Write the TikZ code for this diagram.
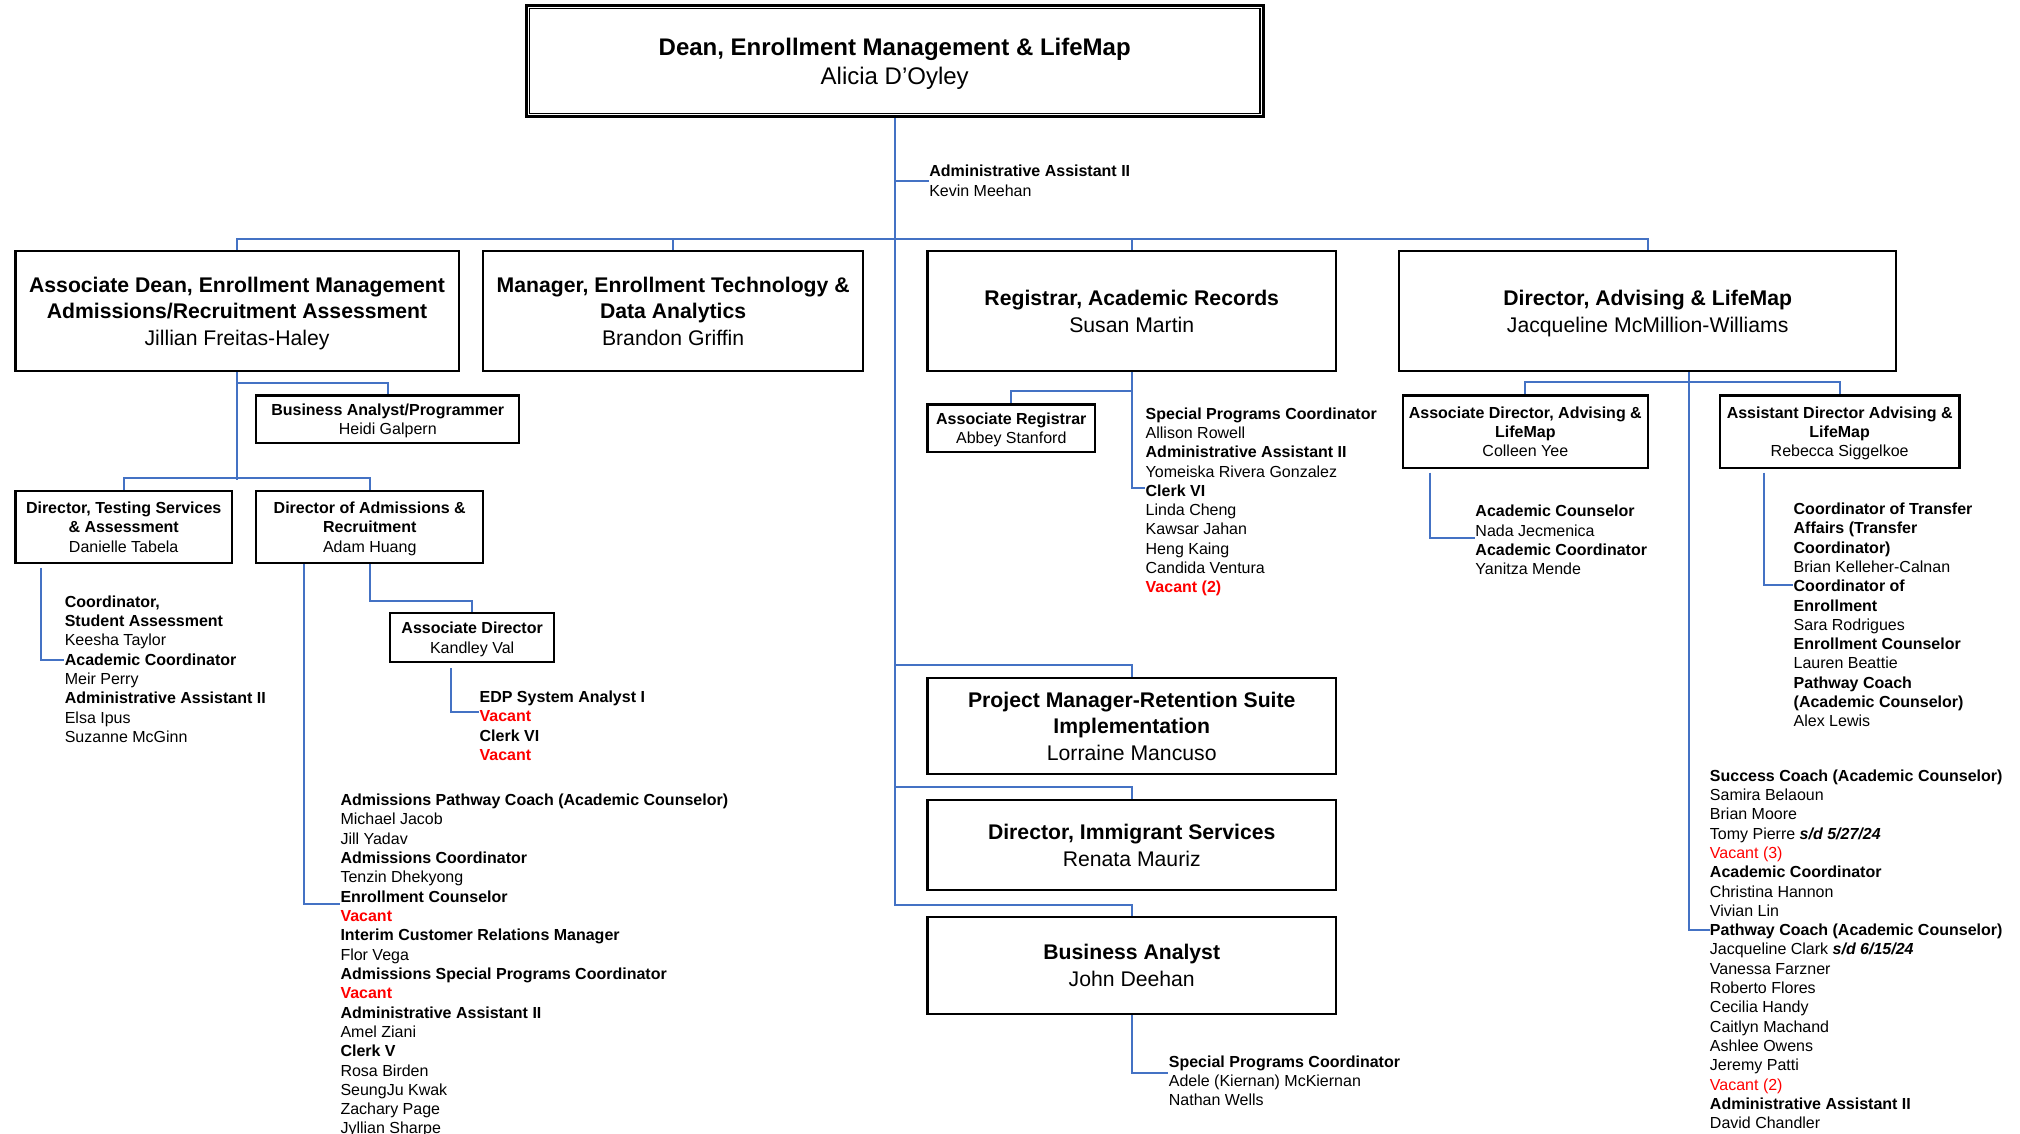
\documentclass[tikz,border=0pt]{standalone}
\usepackage{fontspec}
\setmainfont{Liberation Sans}
\usetikzlibrary{backgrounds}
\definecolor{linkblue}{RGB}{68,114,196}
\newlength\upx
\setlength\upx{0.6442pt}
\newcommand\vac[1]{\textcolor{red}{#1}}
\tikzset{
  size/.style 2 args={minimum width=#1\upx,minimum height=#2\upx},
  link/.style={draw=linkblue,line width=1pt},
  deanbox/.style={draw,line width=1.4pt,fill=white,align=center,inner sep=0pt,text depth=0pt,font=\fontsize{12}{14.2}\selectfont},
  bigbox/.style={draw,line width=1.1pt,fill=white,align=center,inner sep=0pt,text depth=0pt,font=\fontsize{10.6}{13.3}\selectfont},
  smallbox/.style={draw,line width=1.1pt,fill=white,align=center,inner sep=0pt,text depth=0pt,font=\fontsize{8}{9.66}\selectfont},
  staff/.style={anchor=north west,align=left,inner sep=0pt,yshift=-1\upx,font=\fontsize{8}{9.66}\selectfont},
}
\begin{document}
\begin{tikzpicture}[x=0.6442pt,y=-0.6442pt]
\useasboundingbox (0,0) rectangle (1568,880);
% top
\node[deanbox,size={572}{86}] (dean) at (694.5,47.5) {\textbf{Dean, Enrollment Management \& LifeMap}\\Alicia D’Oyley};
\draw[line width=0.6pt] ([shift={(3.5,3.5)}]dean.north west) rectangle ([shift={(-3.5,-3.5)}]dean.south east);
\node[staff] (aa) at (721,127) {\textbf{Administrative Assistant II}\\Kevin Meehan};
% second row
\node[bigbox,size={344}{93}] (ad) at (184,241.5) {\textbf{Associate Dean, Enrollment Management}\\\textbf{Admissions/Recruitment Assessment}\\Jillian Freitas-Haley};
\node[bigbox,size={295}{93}] (mgr) at (522.5,241.5) {\textbf{Manager, Enrollment Technology \&}\\\textbf{Data Analytics}\\Brandon Griffin};
\node[bigbox,size={317}{93}] (reg) at (878.5,241.5) {\textbf{Registrar, Academic Records}\\Susan Martin};
\node[bigbox,size={386}{93}] (dad) at (1279,241.5) {\textbf{Director, Advising \& LifeMap}\\Jacqueline McMillion-Williams};
% associate dean
\node[smallbox,size={204}{37}] (bap) at (301,325.5) {\textbf{Business Analyst/Programmer}\\Heidi Galpern};
\node[smallbox,size={168}{56}] (dts) at (96,409) {\textbf{Director, Testing Services}\\\textbf{\& Assessment}\\Danielle Tabela};
\node[smallbox,size={176}{56}] (dar) at (287,409) {\textbf{Director of Admissions \&}\\\textbf{Recruitment}\\Adam Huang};
\node[smallbox,size={127}{38}] (adir) at (366.5,495) {\textbf{Associate Director}\\Kandley Val};
\node[staff] (dtsl) at (50,461) {\textbf{Coordinator,}\\\textbf{Student Assessment}\\Keesha Taylor\\\textbf{Academic Coordinator}\\Meir Perry\\\textbf{Administrative Assistant II}\\Elsa Ipus\\Suzanne McGinn};
\node[staff] (adirl) at (372,535) {\textbf{EDP System Analyst I}\\\vac{\textbf{Vacant}}\\\textbf{Clerk VI}\\\vac{\textbf{Vacant}}};
\node[staff] (darl) at (264,615) {\textbf{Admissions Pathway Coach (Academic Counselor)}\\Michael Jacob\\Jill Yadav\\\textbf{Admissions Coordinator}\\Tenzin Dhekyong\\\textbf{Enrollment Counselor}\\\vac{\textbf{Vacant}}\\\textbf{Interim Customer Relations Manager}\\Flor Vega\\\textbf{Admissions Special Programs Coordinator}\\\vac{\textbf{Vacant}}\\\textbf{Administrative Assistant II}\\Amel Ziani\\\textbf{Clerk V}\\Rosa Birden\\SeungJu Kwak\\Zachary Page\\Jyllian Sharpe};
% registrar
\node[smallbox,size={130}{37}] (areg) at (785,332.5) {\textbf{Associate Registrar}\\Abbey Stanford};
\node[staff] (regl) at (889,315) {\textbf{Special Programs Coordinator}\\Allison Rowell\\\textbf{Administrative Assistant II}\\Yomeiska Rivera Gonzalez\\\textbf{Clerk VI}\\Linda Cheng\\Kawsar Jahan\\Heng Kaing\\Candida Ventura\\\vac{\textbf{Vacant (2)}}};
% spine
\node[bigbox,size={317}{75}] (pm) at (878.5,563.5) {\textbf{Project Manager-Retention Suite}\\\textbf{Implementation}\\Lorraine Mancuso};
\node[bigbox,size={317}{70}] (dis) at (878.5,656) {\textbf{Director, Immigrant Services}\\Renata Mauriz};
\node[bigbox,size={317}{75}] (ba) at (878.5,749.5) {\textbf{Business Analyst}\\John Deehan};
\node[staff] (bal) at (907,818) {\textbf{Special Programs Coordinator}\\Adele (Kiernan) McKiernan\\Nathan Wells};
% advising
\node[smallbox,size={190}{56}] (adva) at (1184,335) {\textbf{Associate Director, Advising \&}\\\textbf{LifeMap}\\Colleen Yee};
\node[smallbox,size={186}{56}] (asda) at (1428,335) {\textbf{Assistant Director Advising \&}\\\textbf{LifeMap}\\Rebecca Siggelkoe};
\node[staff] (advl) at (1145,391) {\textbf{Academic Counselor}\\Nada Jecmenica\\\textbf{Academic Coordinator}\\Yanitza Mende};
\node[staff] (asdl) at (1392,389) {\textbf{Coordinator of Transfer}\\\textbf{Affairs (Transfer}\\\textbf{Coordinator)}\\Brian Kelleher-Calnan\\\textbf{Coordinator of}\\\textbf{Enrollment}\\Sara Rodrigues\\\textbf{Enrollment Counselor}\\Lauren Beattie\\\textbf{Pathway Coach}\\\textbf{(Academic Counselor)}\\Alex Lewis};
\node[staff] (dadl) at (1327,596) {\textbf{Success Coach (Academic Counselor)}\\Samira Belaoun\\Brian Moore\\Tomy Pierre \textbf{\textit{s/d 5/27/24}}\\\vac{Vacant (3)}\\\textbf{Academic Coordinator}\\Christina Hannon\\Vivian Lin\\\textbf{Pathway Coach (Academic Counselor)}\\Jacqueline Clark \textbf{\textit{s/d 6/15/24}}\\Vanessa Farzner\\Roberto Flores\\Cecilia Handy\\Caitlyn Machand\\Ashlee Owens\\Jeremy Patti\\\vac{Vacant (2)}\\\textbf{Administrative Assistant II}\\David Chandler};
% where lines meet the lists
\coordinate (dts-in) at (50,512);
\coordinate (dar-in) at (264,702);
\coordinate (adir-in) at (372,553);
\coordinate (reg-in) at (889,379);
\coordinate (ba-in) at (907,833);
\coordinate (adva-in) at (1145,418);
\coordinate (asda-in) at (1392,454);
\coordinate (dad-in) at (1327,722);
\begin{pgfonlayer}{background}
\draw[link] (ad.north) -- ++(0,-9) -| (dad.north);
\draw[link] (mgr.north) -- ++(0,-9);
\draw[link] (reg.north) -- ++(0,-9);
\draw[link] (ba.north) -- ++(0,-9) -| (dean.south);
\draw[link] (pm.north) -- ++(0,-9) -| (dean.south);
\draw[link] (dis.north) -- ++(0,-9) -| (dean.south);
\draw[link] (aa.west) -- (aa.west -| dean.south);
\draw[link] (bap.north) -- ++(0,-9) -| (ad.south);
\draw[link] (ad.south) -- ++(0,84);
\draw[link] (dts.north) -- ++(0,-9) -| (dar.north);
\draw[link] (dts.south west) ++(21,3) |- (dts-in);
\draw[link] (adir.north) -- ++(0,-9) -| (dar.south);
\draw[link] (dar.south west) ++(38,0) |- (dar-in);
\draw[link] (adir.south west) ++(48,4) |- (adir-in);
\draw[link] (areg.north) -- ++(0,-10) -| (reg.south);
\draw[link] (reg.south) |- (reg-in);
\draw[link] (ba.south) |- (ba-in);
\draw[link] (adva.north) -- ++(0,-10) -| (asda.north);
\draw[link] (dad.south east) ++(-162,0) |- (dad-in);
\draw[link] (adva.south west) ++(22,3) |- (adva-in);
\draw[link] (asda.south west) ++(35,3) |- (asda-in);
\end{pgfonlayer}
\end{tikzpicture}
\end{document}
